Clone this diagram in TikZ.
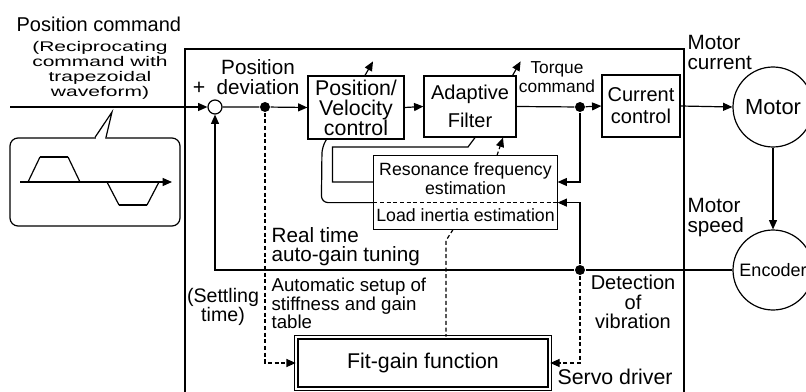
\documentclass[tikz,border=0pt]{standalone}
\usepackage{fontspec}
\setmainfont{Liberation Sans}
\newfontfamily\widefont[FakeStretch=1.5]{Liberation Sans}
\usetikzlibrary{arrows.meta, calc}

\begin{document}
\begin{tikzpicture}[x=0.75pt, y=-0.75pt, line width=0.9pt,
    >={Triangle[length=7pt,width=6pt]},
    blk/.style={draw, inner sep=0pt, align=center, font=\fontsize{16}{15}\selectfont},
    dot/.style={circle, fill, inner sep=0pt, minimum size=7.5pt},
    lbl/.style={inner sep=0pt, align=center, font=\fontsize{15.5}{14.5}\selectfont},
    sml/.style={inner sep=0pt, align=left, font=\fontsize{13.3}{14}\selectfont},
    dsh/.style={dash pattern=on 3pt off 2pt},
]
\useasboundingbox (0,0) rectangle (806,392);

% servo driver frame
\draw[line width=1.1pt] (185,400) -- (185,49) -- (684,49) -- (684,400);

% blocks
\node[circle, draw, minimum size=10.5pt, inner sep=0pt] (sum) at (215,107) {};
\node[dot] (dev) at (265,107) {};
\node[blk, minimum width=72pt, minimum height=47.25pt] (pv) at (356,107.5) {Position/\\Velocity\\control};
\node[blk, minimum width=69pt, minimum height=45.75pt, font=\fontsize{15}{21}\selectfont] (af) at (470,106.5) {Adaptive\\Filter};
\node[dot] (tq) at (580,107) {};
\node[blk, minimum width=58.5pt, minimum height=46.5pt, font=\fontsize{15}{16.5}\selectfont] (cc) at (641,106) {Current\\control};
\node[circle, draw, minimum size=60pt, inner sep=0pt, font=\fontsize{16.4}{16}\selectfont] (motor) at (773,107) {Motor};
\node[circle, draw, minimum size=60pt, inner sep=0pt, font=\fontsize{13.5}{14}\selectfont] (enc) at (773,270) {Encoder};
\node[dot] (vib) at (580,270) {};
\node[sml, align=center, minimum width=137.25pt, minimum height=34.5pt] (res) at (465.5,179) {Resonance frequency\\estimation};
\node[sml, minimum width=137.25pt, minimum height=20.25pt] (load) at (465.5,215.5) {Load inertia estimation};
\draw (res.north west) rectangle (load.south east);
\draw[dsh] (res.south west) -- (res.south east);
\node[blk, double, double distance=1.5pt, minimum width=190pt, minimum height=38.5pt] (fit) at (423,363) {Fit-gain function};

% waveform callout
\node[draw, rounded corners=6pt, minimum width=127.5pt, minimum height=66pt] (wave) at (95,182) {};
\fill[white] ($(wave.north)+(1,2)$) -- ($(wave.north)+(1,0)$) -- (112,112) -- ($(wave.north)+(10,0)$) -- ($(wave.north)+(10,2)$) -- cycle;
\draw (wave.north) -- (112,112) -- ($(wave.north)+(11,0)$);
\draw[->] (20,182) -- (172,182);
\draw (28,182) -- (40,157) (68,157) -- (80,182) (107,182) -- (119,205) (147,205) -- (159,182);
\draw[line width=2.2pt] (40,157) -- (68,157) (80,182) -- (107,182) (119,205) -- (147,205);

% signal path
\coordinate (in) at (10,107);
\draw[->] (in) -- (sum.west);
\draw[->] (sum.east) -- (dev) -- (pv.west);
\draw[->] (pv.east) -- (af.west);
\draw[->] (af.east) -- (tq) -- (cc.west);
\draw[->] (cc.east) -- (motor.west);
\draw[->] (motor.south) -- (enc.north);
\draw[->] (enc.west) -- (vib) -- (sum.south |- vib) -- (sum.south);
\draw[->] (tq) |- ($(res.east)+(0,3)$);
\draw[->] (vib) |- (res.south east);
\draw ($(res.west)+(0,3)$) -- ++(-41,0) |- (468,147) -- ($(af.south)+(5,0)$);
\draw[rounded corners=5pt] (res.south west) -- ++(-52,0) -- (322,147) -- ($(pv.south west)+(19,0)$);
\draw[dsh, ->] ($(res.north)+(31.5,0)$) -- ($(af.south)+(33,0)$);
\draw[->] ($(pv.north)+(9,0)$) -- ++(8,-14);
\draw[->] ($(af.north east)+(-4,0)$) -- ++(8,-14);
\draw[dsh] ($(load.south)+(-12.5,0)$) -- ++(-7,11) -- ($(fit.north)+(23,0)$);
\draw[dsh, ->] (dev) |- (fit.west);
\draw[dsh, ->] (vib) |- (fit.east);

% labels
\node[anchor=west, inner sep=0pt, font=\fontsize{15}{15}\selectfont] (pcmd) at (16,24) {Position command};
\node[inner sep=0pt, align=center, font=\widefont\fontsize{10.5}{11.25}\selectfont] (wavetxt) at (100,70.5) {(Reciprocating\\command with\\trapezoidal\\waveform)};
\node[lbl, font=\fontsize{16}{16}\selectfont] (plus) at (199,88) {+};
\node[lbl] (devtxt) at (258,77) {Position\\deviation};
\node[sml, align=center, font=\fontsize{13}{14.25}\selectfont] (tqtxt) at (557,77) {Torque\\command};
\node[lbl, anchor=west, align=left] (mctxt) at (687,52.5) {Motor\\current};
\node[lbl, anchor=west, align=left] (mstxt) at (687,217.5) {Motor\\speed};
\node[lbl, anchor=west, align=left] (rttxt) at (271,246.5) {Real time\\auto-gain tuning};
\node[sml, anchor=west, font=\fontsize{14}{14}\selectfont] (autotxt) at (271,303.5) {Automatic setup of\\stiffness and gain\\table};
\node[lbl, font=\fontsize{14.7}{14.25}\selectfont] (settle) at (223,307) {(Settling\\time)};
\node[lbl, font=\fontsize{15}{14.4}\selectfont] (dettxt) at (633,302) {Detection\\of\\vibration};
\node[lbl, anchor=west, font=\fontsize{16}{16}\selectfont] (sdtxt) at (557,377) {Servo driver};
\end{tikzpicture}
\end{document}
